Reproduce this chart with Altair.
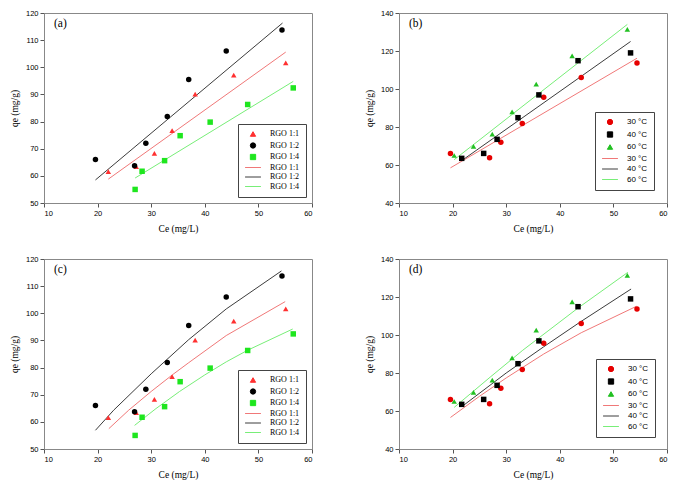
import altair as alt
import pandas as pd

SERIF = "Liberation Serif"
SANS = "Liberation Sans"

# ---------------- data ----------------
# x tick values and y tick values
x_ticks = [10, 20, 30, 40, 50, 60]
y_ticks_ac = [50, 60, 70, 80, 90, 100, 110, 120]
y_ticks_bd = [40, 60, 80, 100, 120, 140]

# panels (a) and (c): experimental points (Ce, qe)
rgo11_ce = [22.0, 27.2, 30.6, 33.9, 38.2, 45.4, 55.1]
rgo11_qe = [61.6, 63.4, 68.3, 76.7, 90.1, 97.1, 101.6]
rgo12_ce = [19.6, 26.9, 29.0, 33.0, 37.0, 44.0, 54.4]
rgo12_qe = [66.0, 63.7, 72.0, 81.9, 95.5, 106.0, 113.7]
rgo14_ce = [27.0, 28.3, 32.5, 35.4, 41.0, 48.0, 56.5]
rgo14_qe = [55.0, 61.7, 65.6, 74.8, 79.8, 86.3, 92.4]

# panel (a): fitted lines
fa11_ce = [22.0, 55.1]
fa11_qe = [58.8, 105.6]
fa12_ce = [19.6, 54.5]
fa12_qe = [58.5, 116.3]
fa14_ce = [27.0, 56.5]
fa14_qe = [59.2, 94.8]

# panel (c): fitted curves
fc11_ce = [22.1, 25.8, 30.0, 34.0, 37.0, 44.0, 55.0]
fc11_qe = [57.5, 64.3, 71.2, 77.4, 81.8, 91.8, 104.3]
fc12_ce = [19.6, 23.0, 30.0, 37.0, 44.0, 54.3]
fc12_qe = [56.9, 64.3, 77.7, 90.3, 101.6, 115.6]
fc14_ce = [26.9, 30.9, 35.3, 40.0, 44.0, 48.0, 56.4]
fc14_qe = [58.7, 64.9, 71.2, 77.3, 82.1, 86.4, 94.2]

# panels (b) and (d): experimental points (Ce, qe)
t30_ce = [19.6, 26.9, 29.0, 33.0, 37.0, 44.0, 54.4]
t30_qe = [66.0, 63.8, 72.0, 81.9, 95.6, 106.1, 113.7]
t40_ce = [21.7, 25.8, 28.3, 32.2, 36.1, 43.4, 53.2]
t40_qe = [63.5, 66.1, 73.5, 84.9, 96.9, 114.9, 119.0]
t60_ce = [20.3, 23.9, 27.4, 31.1, 35.6, 42.3, 52.6]
t60_qe = [65.0, 69.8, 76.3, 87.9, 102.6, 117.4, 131.4]

# panel (b): fitted lines
fb30_ce = [19.6, 54.4]
fb30_qe = [58.5, 116.2]
fb40_ce = [21.8, 53.2]
fb40_qe = [62.5, 125.0]
fb60_ce = [20.3, 52.6]
fb60_qe = [62.8, 134.0]

# panel (d): fitted curves
fd30_ce = [19.6, 25.0, 30.0, 37.0, 44.0, 54.3]
fd30_qe = [56.6, 67.7, 77.4, 90.0, 101.2, 115.1]
fd40_ce = [22.0, 30.0, 37.0, 44.0, 53.3]
fd40_qe = [62.9, 80.0, 93.8, 107.2, 124.2]
fd60_ce = [20.3, 27.0, 33.1, 43.4, 52.7]
fd60_qe = [61.9, 77.8, 92.0, 114.2, 133.0]

rgo_names = ["RGO 1:1", "RGO 1:2", "RGO 1:4"]
temp_names = ["30 °C", "40 °C", "60 °C"]

# ---------------- styling ----------------
W, H = 268, 190
LINE_SYM = "M-3,0H3"
line_colors = ["#f07878", "#3c3c3c", "#78ee78"]


def frame(groups, prefix):
    rows = []
    for name, xs, ys in groups:
        for xv, yv in zip(xs, ys):
            rows.append({"k": prefix + name, "ce": xv, "qe": yv})
    return pd.DataFrame(rows)


def panel(tag, names, pts, fits, pcolors, shapes, ydom, yticks, lfont, loffset, lrowpad):
    domain = ["p:" + n for n in names] + ["l:" + n for n in names]
    legend = alt.Legend(
        title=None, orient="bottom-right", offset=loffset,
        fillColor="white", strokeColor="#444444", padding=6,
        rowPadding=lrowpad, labelFont=lfont, labelFontSize=8, labelColor="black",
        labelExpr="slice(datum.label, 2)", symbolSize=28, symbolStrokeWidth=1,
        symbolOffset=5, labelOffset=13, symbolOpacity=1,
    )
    color = alt.Color("k:N", scale=alt.Scale(domain=domain, range=pcolors + line_colors), legend=legend)
    shape = alt.Shape("k:N", scale=alt.Scale(domain=domain, range=shapes + [LINE_SYM] * 3), legend=legend)
    x = alt.X("ce:Q", scale=alt.Scale(domain=[10, 60], nice=False, zero=False),
              axis=alt.Axis(values=x_ticks, title="Ce (mg/L)", titlePadding=7))
    y = alt.Y("qe:Q", scale=alt.Scale(domain=ydom, nice=False, zero=False),
              axis=alt.Axis(values=yticks, title="qe (mg/g)", titlePadding=6))
    pdf = frame([(n, a, b) for n, (a, b) in zip(names, pts)], "p:")
    ldf = frame([(n, a, b) for n, (a, b) in zip(names, fits)], "l:")
    lines = alt.Chart(ldf).mark_line(strokeWidth=1).encode(x=x, y=y, color=color, detail="k:N")
    points = alt.Chart(pdf).mark_point(filled=True, opacity=1, size=30).encode(
        x=x, y=y, color=color, shape=shape)
    return alt.layer(lines, points).properties(
        width=W, height=H,
        title=alt.TitleParams(tag, anchor="start", frame="group", offset=-20, dx=10,
                              font=SERIF, fontSize=11.5, fontWeight="normal", color="black"),
    )


pa = panel("(a)", rgo_names,
           [(rgo11_ce, rgo11_qe), (rgo12_ce, rgo12_qe), (rgo14_ce, rgo14_qe)],
           [(fa11_ce, fa11_qe), (fa12_ce, fa12_qe), (fa14_ce, fa14_qe)],
           ["#ff3030", "#000000", "#1ee61e"], ["triangle-up", "circle", "square"],
           [50, 120], y_ticks_ac, SERIF, 6, 1.5)
pc = panel("(c)", rgo_names,
           [(rgo11_ce, rgo11_qe), (rgo12_ce, rgo12_qe), (rgo14_ce, rgo14_qe)],
           [(fc11_ce, fc11_qe), (fc12_ce, fc12_qe), (fc14_ce, fc14_qe)],
           ["#ff3030", "#000000", "#1ee61e"], ["triangle-up", "circle", "square"],
           [50, 120], y_ticks_ac, SERIF, 6, 1.5)
pb = panel("(b)", temp_names,
           [(t30_ce, t30_qe), (t40_ce, t40_qe), (t60_ce, t60_qe)],
           [(fb30_ce, fb30_qe), (fb40_ce, fb40_qe), (fb60_ce, fb60_qe)],
           ["#e60000", "#000000", "#22c022"], ["circle", "square", "triangle-up"],
           [40, 140], y_ticks_bd, SANS, 13, 2.5)
pd_ = panel("(d)", temp_names,
            [(t30_ce, t30_qe), (t40_ce, t40_qe), (t60_ce, t60_qe)],
            [(fd30_ce, fd30_qe), (fd40_ce, fd40_qe), (fd60_ce, fd60_qe)],
            ["#e60000", "#000000", "#22c022"], ["circle", "square", "triangle-up"],
            [40, 140], y_ticks_bd, SANS, 12, 2.5)

row1 = alt.hconcat(pa, pb, spacing=50).resolve_scale(color="independent", shape="independent")
row2 = alt.hconcat(pc, pd_, spacing=50).resolve_scale(color="independent", shape="independent")

chart = alt.vconcat(row1, row2, spacing=20).resolve_scale(
    color="independent", shape="independent"
).properties(padding=0).configure_axis(
    labelFont=SANS, labelFontSize=7.5, labelColor="black", labelPadding=2,
    titleFont=SERIF, titleFontSize=9.5, titleFontWeight="normal", titleColor="black",
    tickColor="#555555", tickSize=4, domainColor="#888888", grid=False,
).configure_view(stroke="#888888", strokeWidth=1)

chart.save("out.html", embed_options={"renderer": "svg", "actions": False})
